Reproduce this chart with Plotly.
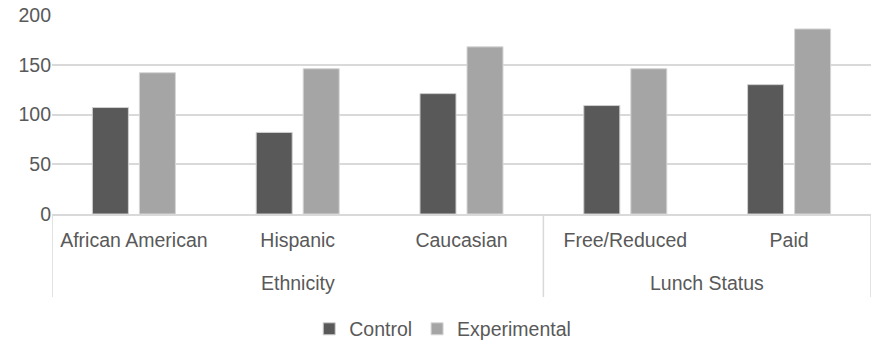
import plotly.graph_objects as go

# Categories, their groups, and the two series
categories = ["African American", "Hispanic", "Caucasian", "Free/Reduced", "Paid"]
group_names = ["Ethnicity", "Lunch Status"]
group_spans = [(0, 2), (3, 4)]  # first/last category index of each group
control = [107, 82, 121, 109, 130]
experimental = [142, 146, 168, 146, 186]
y_ticks = [0, 50, 100, 150, 200]

FONT = "Liberation Sans, Arial, sans-serif"
TEXT = "#595959"
GRID = "#d9d9d9"
SIZE = 19.5

fig = go.Figure()
fig.add_trace(go.Bar(
    x=categories, y=control, name="Control",
    marker=dict(color="#595959", line=dict(color="#cfcfcf", width=1)),
))
fig.add_trace(go.Bar(
    x=categories, y=experimental, name="Experimental",
    marker=dict(color="#a5a5a5", line=dict(color="#d6d6d6", width=1)),
))

# Second-level (group) labels and the dividers between groups
for name, (first, last) in zip(group_names, group_spans):
    fig.add_annotation(
        x=(first + last) / 2, xref="x", y=0, yref="paper",
        yanchor="middle", yshift=-69, text=name, showarrow=False,
        font=dict(family=FONT, size=SIZE, color=TEXT),
    )
divider_positions = [group_spans[0][0] - 0.5] + [last + 0.5 for _, last in group_spans]
for xpos in divider_positions:
    fig.add_shape(
        type="line", xref="x", x0=xpos, x1=xpos,
        yref="paper", ysizemode="pixel", yanchor=0, y0=0, y1=-83,
        line=dict(color=GRID, width=1.5), layer="below",
    )

fig.update_layout(
    width=871, height=345,
    margin=dict(l=52, r=0, t=15, b=131),
    paper_bgcolor="white", plot_bgcolor="white",
    font=dict(family=FONT, size=SIZE, color=TEXT),
    barmode="group", bargap=0.426, bargroupgap=0.234,
    showlegend=True,
    legend=dict(
        orientation="h", xref="container", x=0.355, xanchor="left",
        yref="container", y=0.046, yanchor="middle",
        font=dict(family=FONT, size=SIZE, color=TEXT), itemwidth=30,
    ),
)
fig.update_xaxes(
    range=[-0.5, 4.5],
    showline=True, linecolor=GRID, linewidth=1.5,
    showgrid=False, ticks="", ticklabelstandoff=8,
    tickfont=dict(family=FONT, size=SIZE, color=TEXT),
)
fig.update_yaxes(
    range=[0, 200], tickvals=y_ticks,
    showgrid=True, gridcolor=GRID, gridwidth=2,
    zeroline=False, showline=False, ticks="",
    tickfont=dict(family=FONT, size=SIZE, color=TEXT),
)

fig.write_html("out.html")
